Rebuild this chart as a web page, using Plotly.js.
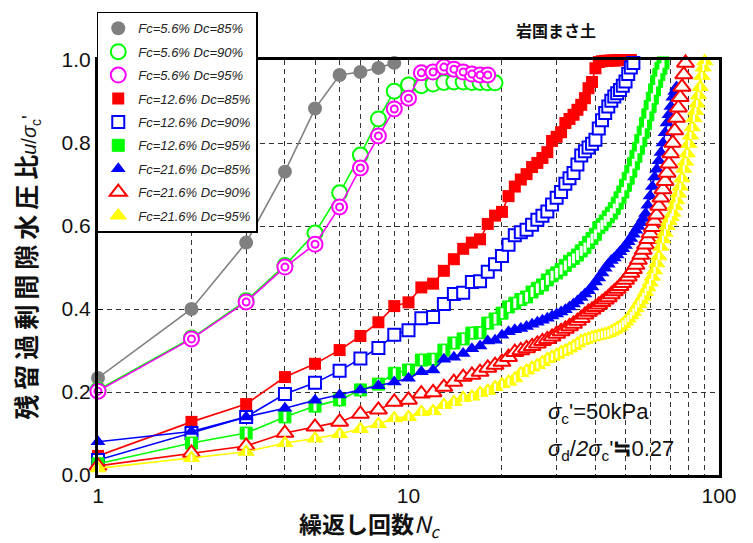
<!DOCTYPE html>
<html>
<head>
<meta charset="utf-8">
<script src="https://cdn.plot.ly/plotly-3.0.1.min.js"></script>
<style>
  html, body { margin: 0; padding: 0; background: #ffffff; }
  #chart { width: 753px; height: 543px; }
</style>
</head>
<body>
<div id="chart"></div>
<script>
// Cycle numbers (shared x values, each series uses its first n entries)
const cycles = [1,2,3,4,5,6,7,8,9,10,11,12,13,14,15,16,17,18,19,20,
  21,22,23,24,25,26,27,28,29,30,31,32,33,34,35,36,37,38,39,40,
  41,42,43,44,45,46,47,48,49,50,51,52,53,54,55,56,57,58,59,60,
  61,62,63,64,65,66,67,68,69,70,71,72,73,74,75,76,77,78,79,80,
  81,82,83,84,85,86,87,88,89,90];

// Residual excess pore water pressure ratio u/σc' per cycle
const fc56_dc85 = [0.234,0.400,0.560,0.731,0.883,0.964,0.971,0.981,0.993];
const fc56_dc90 = [0.205,0.330,0.420,0.505,0.583,0.680,0.771,0.858,0.925,0.940,
  0.938,0.942,0.946,0.947,0.947,0.946,0.946,0.945,0.945];
const fc56_dc95 = [0.202,0.328,0.417,0.501,0.556,0.646,0.740,0.817,0.882,0.908,
  0.969,0.971,0.983,0.978,0.971,0.966,0.964,0.964];
const fc126_dc85 = [0.046,0.128,0.171,0.236,0.268,0.301,0.335,0.368,0.407,0.416,
  0.452,0.461,0.492,0.520,0.545,0.560,0.568,0.605,0.625,0.634,
  0.672,0.695,0.712,0.725,0.742,0.752,0.764,0.778,0.805,0.815,
  0.826,0.848,0.858,0.868,0.880,0.892,0.908,0.932,0.947,0.980,
  0.995,0.997,0.998,0.998,0.999,0.999,0.999,1.000,1.000,1.000,
  1.000,1.000];
const fc126_dc90 = [0.036,0.101,0.140,0.195,0.222,0.251,0.281,0.306,0.338,0.349,
  0.378,0.381,0.412,0.436,0.439,0.465,0.467,0.490,0.508,0.528,
  0.555,0.578,0.585,0.591,0.603,0.615,0.625,0.635,0.652,0.668,
  0.682,0.702,0.715,0.728,0.748,0.770,0.780,0.789,0.798,0.808,
  0.835,0.855,0.872,0.888,0.902,0.912,0.920,0.928,0.938,0.948,
  0.966,0.982,0.993];
const fc126_dc95 = [0.027,0.077,0.101,0.140,0.166,0.181,0.205,0.219,0.245,0.253,
  0.277,0.279,0.301,0.318,0.328,0.342,0.343,0.366,0.376,0.390,
  0.405,0.414,0.423,0.429,0.441,0.450,0.458,0.470,0.480,0.487,
  0.495,0.505,0.515,0.522,0.530,0.540,0.548,0.560,0.570,0.580,
  0.596,0.603,0.612,0.622,0.631,0.642,0.655,0.668,0.682,0.698,
  0.715,0.732,0.750,0.768,0.787,0.806,0.826,0.847,0.868,0.888,
  0.908,0.928,0.948,0.965,0.980,0.993];
const fc216_dc85 = [0.080,0.105,0.140,0.161,0.180,0.193,0.205,0.215,0.224,0.233,
  0.249,0.253,0.279,0.284,0.293,0.304,0.311,0.323,0.325,0.337,
  0.345,0.350,0.353,0.358,0.363,0.368,0.373,0.378,0.383,0.388,
  0.393,0.398,0.405,0.412,0.419,0.428,0.436,0.444,0.453,0.465,
  0.475,0.487,0.498,0.508,0.517,0.523,0.530,0.538,0.545,0.553,
  0.562,0.570,0.580,0.590,0.599,0.608,0.618,0.630,0.650,0.672,
  0.695,0.718,0.737,0.757,0.777,0.800,0.825,0.848,0.868,0.888,
  0.910,0.924,0.935];
const fc216_dc90 = [0.022,0.053,0.070,0.101,0.116,0.128,0.147,0.157,0.176,0.181,
  0.196,0.199,0.212,0.224,0.236,0.241,0.248,0.258,0.265,0.272,
  0.284,0.296,0.300,0.305,0.310,0.316,0.322,0.327,0.333,0.340,
  0.346,0.352,0.358,0.364,0.371,0.378,0.386,0.393,0.398,0.404,
  0.410,0.416,0.422,0.428,0.435,0.442,0.448,0.455,0.462,0.470,
  0.478,0.487,0.496,0.506,0.518,0.530,0.542,0.555,0.568,0.582,
  0.597,0.612,0.627,0.648,0.668,0.688,0.708,0.728,0.750,0.775,
  0.800,0.830,0.860,0.885,0.910,0.935,0.965,0.993];
const fc216_dc95 = [0.016,0.041,0.056,0.077,0.088,0.099,0.111,0.123,0.137,0.140,
  0.152,0.154,0.169,0.176,0.186,0.189,0.198,0.203,0.212,0.219,
  0.225,0.233,0.246,0.252,0.259,0.265,0.272,0.280,0.285,0.290,
  0.296,0.300,0.305,0.311,0.317,0.323,0.326,0.329,0.332,0.334,
  0.336,0.338,0.340,0.342,0.346,0.350,0.354,0.358,0.364,0.370,
  0.377,0.385,0.393,0.402,0.412,0.421,0.430,0.441,0.452,0.464,
  0.478,0.493,0.510,0.527,0.550,0.568,0.584,0.600,0.612,0.622,
  0.632,0.648,0.662,0.678,0.695,0.715,0.738,0.755,0.775,0.798,
  0.818,0.838,0.860,0.877,0.895,0.915,0.935,0.962,0.982,0.997];

const seriesNames = [
  'Fc=5.6% Dc=85%', 'Fc=5.6% Dc=90%', 'Fc=5.6% Dc=95%',
  'Fc=12.6% Dc=85%', 'Fc=12.6% Dc=90%', 'Fc=12.6% Dc=95%',
  'Fc=21.6% Dc=85%', 'Fc=21.6% Dc=90%', 'Fc=21.6% Dc=95%'
];

// labelled decades and the unlabelled grid positions between them
const xTickVals = [1, 10, 100];
const xTickText = ['1', '10', '100'];
const xMinorVals = [2,3,4,5,6,7,8,9,20,30,40,50,60,70,80,90];

// marker styles for each series; "inner" is a second glyph stacked on the same points
const styles = [
  {line: '#808080', marker: {symbol: 'circle', size: 14, color: '#808080', line: {width: 0}}},
  {line: '#00ff00', marker: {symbol: 'circle', size: 15, color: '#ffffff', line: {color: '#00ff00', width: 2}}},
  {line: '#ff00ff', marker: {symbol: 'circle', size: 15, color: '#ffffff', line: {color: '#ff00ff', width: 2}},
     inner: {symbol: 'circle', size: 7, color: '#ffffff', line: {color: '#ff00ff', width: 2}}},
  {line: '#ff0000', marker: {symbol: 'square', size: 12, color: '#ff0000', line: {width: 0}}},
  {line: '#0000ff', marker: {symbol: 'square', size: 12, color: '#ffffff', line: {color: '#0000ff', width: 2}}},
  {line: '#00ff00', marker: {symbol: 'square', size: 12, color: '#00ff00', line: {color: '#00ff00', width: 1}},
     inner: {symbol: 'line-ns', size: 7, color: '#ffffff', line: {color: '#ffffff', width: 3}}},
  {line: '#0000ff', marker: {symbol: 'triangle-up', size: 13, color: '#0000ff', line: {width: 0}}},
  {line: '#ff0000', marker: {symbol: 'triangle-up', size: 15, color: '#ffffff', line: {color: '#ff0000', width: 2}}},
  {line: '#ffff00', marker: {symbol: 'triangle-up', size: 14, color: '#ffff00', line: {color: '#ffff00', width: 1}},
     inner: {symbol: 'line-ns', size: 5, color: '#ffffff', line: {color: '#ffffff', width: 2}}}
];

const seriesValues = [fc56_dc85, fc56_dc90, fc56_dc95, fc126_dc85, fc126_dc90,
  fc126_dc95, fc216_dc85, fc216_dc90, fc216_dc95];

const traces = [];
seriesValues.forEach((vals, i) => {
  const st = styles[i];
  traces.push({
    type: 'scatter', mode: 'lines+markers',
    x: cycles.slice(0, vals.length), y: vals.slice(),
    name: seriesNames[i], showlegend: false, cliponaxis: false,
    line: {color: st.line, width: 1.6}, marker: st.marker, hoverinfo: 'skip'
  });
  if (st.inner) {
    traces.push({
      type: 'scatter', mode: 'markers',
      x: cycles.slice(0, vals.length), y: vals.slice(),
      name: seriesNames[i], showlegend: false, cliponaxis: false,
      marker: st.inner, hoverinfo: 'skip'
    });
  }
});
// legend entries (markers only)
seriesValues.forEach((vals, i) => {
  traces.push({
    type: 'scatter', mode: 'markers', x: [null], y: [null],
    name: seriesNames[i], legendgroup: 'g' + i, showlegend: true,
    marker: styles[i].marker
  });
});

const tickFont = {family: 'Liberation Sans, Arial, sans-serif', size: 21, color: '#111111'};
const gridDash = '5px,4px';

const layout = {
  width: 753, height: 543,
  margin: {l: 98, r: 34, t: 60, b: 68, autoexpand: false},
  paper_bgcolor: '#ffffff', plot_bgcolor: '#ffffff',
  showlegend: true,
  legend: {
    x: -0.002, y: 1.116, xanchor: 'left', yanchor: 'top',
    bgcolor: '#ffffff', bordercolor: '#000000', borderwidth: 1.5,
    font: {family: 'Liberation Sans, Arial, sans-serif', size: 13, color: '#222222', style: 'italic'},
    tracegroupgap: 3.5, traceorder: 'grouped', itemclick: false
  },
  xaxis: {
    type: 'log', range: [0, 2], automargin: false,
    tickmode: 'array', tickvals: xTickVals, ticktext: xTickText, ticks: '',
    tickfont: tickFont,
    showgrid: true, gridcolor: '#333333', gridwidth: 1, griddash: gridDash,
    minor: {
      tickmode: 'array', tickvals: xMinorVals, ticks: '',
      showgrid: true, gridcolor: '#333333', gridwidth: 1, griddash: gridDash
    },
    showline: true, linecolor: '#000000', linewidth: 3, mirror: true,
    zeroline: false,
    title: {
      text: '<b>繰返し回数</b><i>N<sub>c</sub></i>\u3000\u3000\u3000\u00a0\u00a0\u200b',
      font: {family: 'Noto Sans CJK JP, sans-serif', size: 23, color: '#111111'},
      standoff: 2
    }
  },
  yaxis: {
    range: [0, 1], automargin: false, dtick: 0.2, tick0: 0, tickformat: '.1f',
    ticks: 'inside', ticklen: 5, tickcolor: '#000000',
    tickfont: tickFont,
    showgrid: true, gridcolor: '#333333', gridwidth: 1, griddash: gridDash,
    showline: true, linecolor: '#000000', linewidth: 3, mirror: true,
    zeroline: false,
    title: {
      text: '<b>残\u2009留\u2009過\u2009剰\u2009間\u2009隙\u2009水\u2009圧\u2009比</b>' +
            '<span style="font-family:Liberation Sans, Arial;font-size:20px"><i>u</i>/<i>σ</i><sub>c</sub>\'</span>',
      font: {family: 'Noto Sans CJK JP, sans-serif', size: 25, color: '#111111'},
      standoff: 18
    }
  },
  annotations: [
    {
      xref: 'paper', yref: 'paper', x: 0.805, y: 1.072, yanchor: 'middle',
      text: '<b>岩国まさ土</b>', showarrow: false,
      font: {family: 'Noto Sans CJK JP, sans-serif', size: 16, color: '#111111'}
    },
    {
      xref: 'paper', yref: 'paper', x: 0.722, y: 0.150, xanchor: 'left', yanchor: 'middle',
      text: '<i>σ</i><sub>c</sub>\'=50kPa', showarrow: false,
      font: {family: 'Liberation Sans, Arial, sans-serif', size: 22, color: '#111111'}
    },
    {
      xref: 'paper', yref: 'paper', x: 0.722, y: 0.060, xanchor: 'left', yanchor: 'middle',
      text: '<i>σ</i><sub>d</sub>/<i>2σ</i><sub>c</sub>\'<b>≒</b>0.27', showarrow: false,
      font: {family: 'Liberation Sans, Arial, sans-serif', size: 22, color: '#111111'}
    }
  ]
};

Plotly.newPlot('chart', traces, layout, {displayModeBar: false, staticPlot: true});
</script>
</body>
</html>
